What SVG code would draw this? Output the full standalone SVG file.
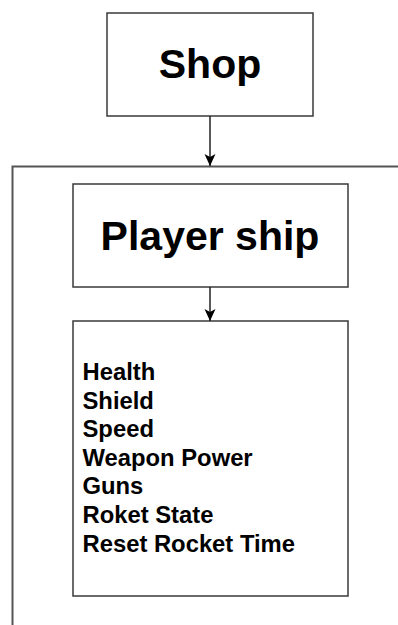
<svg xmlns="http://www.w3.org/2000/svg" width="398" height="625" viewBox="0 0 398 625">
<defs>
<style>
.box{fill:#ffffff;stroke:#3a3a3a;stroke-width:1.5}
.frame{fill:none;stroke:#555555;stroke-width:2}
.edge{stroke:#222222;stroke-width:1.5;fill:none}
.title{font-family:"Liberation Sans",Arial,sans-serif;font-weight:bold;font-size:41px;fill:#000;text-anchor:middle}
.item{font-family:"Liberation Sans",Arial,sans-serif;font-weight:bold;font-size:23.8px;fill:#000}
</style>
<marker id="arrow" viewBox="0 0 12 12" refX="12" refY="6" markerWidth="12" markerHeight="12" markerUnits="userSpaceOnUse" orient="auto">
<path d="M0,0.5 L12,6 L0,11.5 L3,6 Z" fill="#000"/>
</marker>
</defs>
<rect width="398" height="625" fill="#ffffff"/>
<g id="container">
<path class="frame" d="M12.5,625 L12.5,166.5 L398,166.5"/>
</g>
<g id="shop">
<rect class="box" x="107" y="13" width="206" height="103"/>
<text class="title" x="210" y="78">Shop</text>
</g>
<g id="player-ship">
<rect class="box" x="73" y="184" width="275" height="103"/>
<text class="title" x="210" y="250">Player ship</text>
</g>
<g id="stats">
<rect class="box" x="73" y="321" width="275" height="275"/>
<text class="item" x="82.5">
<tspan x="82.5" y="380">Health</tspan>
<tspan x="82.5" y="408.5">Shield</tspan>
<tspan x="82.5" y="437">Speed</tspan>
<tspan x="82.5" y="465.5">Weapon Power</tspan>
<tspan x="82.5" y="494">Guns</tspan>
<tspan x="82.5" y="522.5">Roket State</tspan>
<tspan x="82.5" y="551.5">Reset Rocket Time</tspan>
</text>
</g>
<g id="connectors">
<line class="edge" x1="210" y1="116" x2="210" y2="166" marker-end="url(#arrow)"/>
<line class="edge" x1="210" y1="287" x2="210" y2="321" marker-end="url(#arrow)"/>
</g>
</svg>
